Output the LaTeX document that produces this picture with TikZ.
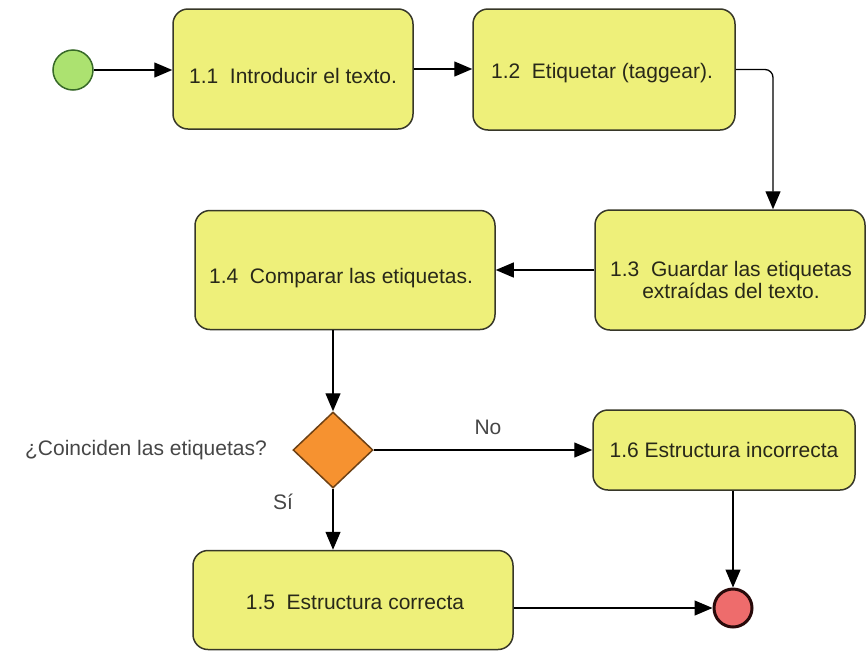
\documentclass[tikz,border=0pt]{standalone}
\usepackage{fontspec}
\setmainfont{Liberation Sans}
\usetikzlibrary{arrows.meta,shapes.geometric}
\definecolor{boxfill}{RGB}{238,240,122}
\definecolor{boxline}{RGB}{55,55,40}
\definecolor{txtcol}{RGB}{40,40,25}
\definecolor{lblcol}{RGB}{70,70,70}
\definecolor{diafill}{RGB}{246,146,48}
\definecolor{dialine}{RGB}{110,65,20}
\definecolor{startfill}{RGB}{172,226,112}
\definecolor{startline}{RGB}{55,105,40}
\definecolor{endfill}{RGB}{238,108,108}
\definecolor{endline}{RGB}{40,10,10}
\tikzset{
  stepbox/.style={draw=boxline, fill=boxfill, line width=1.5pt, rounded corners=15pt, inner sep=0pt},
  txt/.style={text=txtcol, font=\fontsize{21}{22}\selectfont, inner sep=0pt, align=center},
  lbl/.style={text=lblcol, font=\fontsize{21}{22}\selectfont, inner sep=0pt},
  conn/.style={draw=black, line width=1.3pt, -{Triangle[length=18pt,width=15pt]}},
}
\begin{document}
\begin{tikzpicture}[x=1pt,y=-1pt]
\useasboundingbox (0,0) rectangle (866,651);
% start / end
\node[circle, draw=startline, fill=startfill, line width=1.5pt, minimum size=40pt, inner sep=0pt] (start) at (73,70) {};
\node[circle, draw=endline, fill=endfill, line width=3pt, minimum size=38pt, inner sep=0pt] (end) at (733,608) {};
% boxes
\node[stepbox, minimum width=240pt, minimum height=120pt] (b11) at (293,69) {};
\node[stepbox, minimum width=262pt, minimum height=121pt] (b12) at (604,69.5) {};
\node[stepbox, minimum width=270pt, minimum height=120pt] (b13) at (730,270) {};
\node[stepbox, minimum width=300pt, minimum height=119pt] (b14) at (345,270) {};
\node[stepbox, minimum width=320pt, minimum height=99pt] (b15) at (353,600) {};
\node[stepbox, minimum width=262pt, minimum height=80pt] (b16) at (724,450) {};
\node[diamond, draw=dialine, fill=diafill, line width=1.5pt, minimum width=80pt, minimum height=76pt, inner sep=0pt] (dia) at (333,450) {};
% texts
\node[txt] (t11) at (293,76) {1.1\ \ Introducir el texto.};
\node[txt] (t12) at (602,73) {1.2\ \ Etiquetar (taggear).};
\node[txt] (t13) at (731,280) {1.3\ \ Guardar las etiquetas\\extraídas del texto.};
\node[txt] (t14) at (341,278) {1.4\ \ Comparar las etiquetas.};
\node[txt] (t15) at (355,602) {1.5\ \ Estructura correcta};
\node[txt] (t16) at (724,450) {1.6 Estructura incorrecta};
\node[lbl, anchor=east] (q) at (267,450) {¿Coinciden las etiquetas?};
\node[lbl] (no) at (488,427) {No};
\node[lbl] (si) at (283,502) {Sí};
% connectors
\draw[conn] (start) -- (start -| b11.west);
\draw[conn] (b11.east |- 0,69) -- (b12.west |- 0,69);
\coordinate (c13) at ([xshift=43pt]b13.north);
\draw[conn, rounded corners=8pt] (b12.east) -| (c13);
\draw[conn] (b13.west) -- (b14.east);
\draw[conn] (dia.north |- b14.south) -- (dia.north);
\draw[conn] (dia.south) -- (dia.south |- b15.north);
\draw[conn] (dia.east) -- (b16.west);
\draw[conn] (end.north |- b16.south) -- (end.north);
\draw[conn] (b15.east |- end) -- (end.west);
\end{tikzpicture}
\end{document}
